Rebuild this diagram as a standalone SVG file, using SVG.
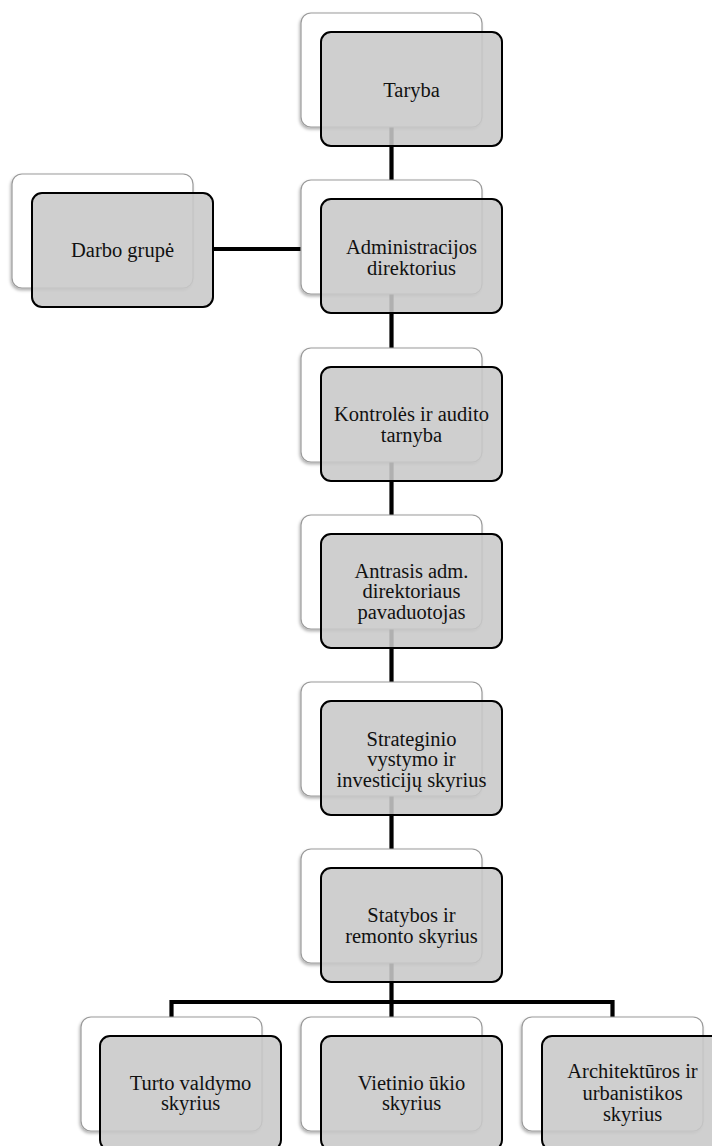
<svg xmlns="http://www.w3.org/2000/svg" width="712" height="1146" viewBox="0 0 712 1146" font-family="'Liberation Serif', 'Times New Roman', serif" font-size="20.5">
<defs>
<filter id="sh" x="-10%" y="-10%" width="120%" height="125%">
<feDropShadow dx="-1" dy="2" stdDeviation="1.5" flood-color="#000" flood-opacity="0.3"/>
</filter>
</defs>
<style>
.back{fill:#fff;stroke:#9a9a9a;stroke-width:1.2;filter:url(#sh)}
.front{fill:#c8c8c8;fill-opacity:0.88;stroke:#000;stroke-width:2}
.lbl{font-family:'Liberation Serif','Times New Roman',serif;font-size:20.5px;fill:#111;text-anchor:middle}
.con{stroke:#000;stroke-width:4.2;fill:none}
</style>
<rect width="712" height="1146" fill="#fff"/>
<g id="connectors">
<line class="con" x1="391.5" y1="126" x2="391.5" y2="182"/>
<line class="con" x1="391.5" y1="293" x2="391.5" y2="350"/>
<line class="con" x1="391.5" y1="461" x2="391.5" y2="517"/>
<line class="con" x1="391.5" y1="628" x2="391.5" y2="684"/>
<line class="con" x1="391.5" y1="795" x2="391.5" y2="851"/>
<line class="con" x1="213" y1="249" x2="303" y2="249"/>
<path class="con" d="M391.5 962 V1002 M171.5 1019 V1002 H612.5 V1019 M391.5 1002 V1019"/>
</g>
<g id="n-taryba">
<rect class="back" x="301" y="13" width="181" height="114" rx="10"/>
<rect class="front" x="321" y="32" width="181" height="114" rx="10"/>
<text class="lbl" x="411.5" y="96.5" font-family="Liberation Serif, serif" text-anchor="middle">Taryba</text>
</g>
<g id="n-admin">
<rect class="back" x="301" y="180" width="181" height="114" rx="10"/>
<rect class="front" x="321" y="199" width="181" height="114" rx="10"/>
<text class="lbl" x="411.5" y="254" font-family="Liberation Serif, serif" text-anchor="middle">Administracijos</text>
<text class="lbl" x="411.5" y="274.5" font-family="Liberation Serif, serif" text-anchor="middle">direktorius</text>
</g>
<g id="n-darbo">
<rect class="back" x="12" y="174" width="181" height="114" rx="10"/>
<rect class="front" x="32" y="193" width="181" height="114" rx="10"/>
<text class="lbl" x="122.5" y="257" font-family="Liberation Serif, serif" text-anchor="middle">Darbo grupė</text>
</g>
<g id="n-kontroles">
<rect class="back" x="301" y="348" width="181" height="114" rx="10"/>
<rect class="front" x="321" y="367" width="181" height="114" rx="10"/>
<text class="lbl" x="411.5" y="421" font-family="Liberation Serif, serif" text-anchor="middle">Kontrolės ir audito</text>
<text class="lbl" x="411.5" y="441.5" font-family="Liberation Serif, serif" text-anchor="middle">tarnyba</text>
</g>
<g id="n-antrasis">
<rect class="back" x="301" y="515" width="181" height="114" rx="10"/>
<rect class="front" x="321" y="534" width="181" height="114" rx="10"/>
<text class="lbl" x="411.5" y="577.5" font-family="Liberation Serif, serif" text-anchor="middle">Antrasis adm.</text>
<text class="lbl" x="411.5" y="598" font-family="Liberation Serif, serif" text-anchor="middle">direktoriaus</text>
<text class="lbl" x="411.5" y="618.5" font-family="Liberation Serif, serif" text-anchor="middle">pavaduotojas</text>
</g>
<g id="n-strateginio">
<rect class="back" x="301" y="682" width="181" height="114" rx="10"/>
<rect class="front" x="321" y="701" width="181" height="114" rx="10"/>
<text class="lbl" x="411.5" y="745.5" font-family="Liberation Serif, serif" text-anchor="middle">Strateginio</text>
<text class="lbl" x="411.5" y="766" font-family="Liberation Serif, serif" text-anchor="middle">vystymo ir</text>
<text class="lbl" x="411.5" y="786.5" font-family="Liberation Serif, serif" text-anchor="middle">investicijų skyrius</text>
</g>
<g id="n-statybos">
<rect class="back" x="301" y="849" width="181" height="114" rx="10"/>
<rect class="front" x="321" y="868" width="181" height="114" rx="10"/>
<text class="lbl" x="411.5" y="922" font-family="Liberation Serif, serif" text-anchor="middle">Statybos ir</text>
<text class="lbl" x="411.5" y="942.5" font-family="Liberation Serif, serif" text-anchor="middle">remonto skyrius</text>
</g>
<g id="n-turto">
<rect class="back" x="81" y="1017" width="181" height="114" rx="10"/>
<rect class="front" x="100" y="1036" width="181" height="114" rx="10"/>
<text class="lbl" x="190.5" y="1089.5" font-family="Liberation Serif, serif" text-anchor="middle">Turto valdymo</text>
<text class="lbl" x="190.5" y="1110" font-family="Liberation Serif, serif" text-anchor="middle">skyrius</text>
</g>
<g id="n-vietinio">
<rect class="back" x="301" y="1017" width="181" height="114" rx="10"/>
<rect class="front" x="321" y="1036" width="181" height="114" rx="10"/>
<text class="lbl" x="411.5" y="1089.5" font-family="Liberation Serif, serif" text-anchor="middle">Vietinio ūkio</text>
<text class="lbl" x="411.5" y="1110" font-family="Liberation Serif, serif" text-anchor="middle">skyrius</text>
</g>
<g id="n-architekturos">
<rect class="back" x="522" y="1017" width="181" height="114" rx="10"/>
<rect class="front" x="542" y="1036" width="181" height="114" rx="10"/>
<text class="lbl" x="632.5" y="1078" font-family="Liberation Serif, serif" text-anchor="middle">Architektūros ir</text>
<text class="lbl" x="632.5" y="1099.5" font-family="Liberation Serif, serif" text-anchor="middle">urbanistikos</text>
<text class="lbl" x="632.5" y="1121" font-family="Liberation Serif, serif" text-anchor="middle">skyrius</text>
</g>
</svg>
